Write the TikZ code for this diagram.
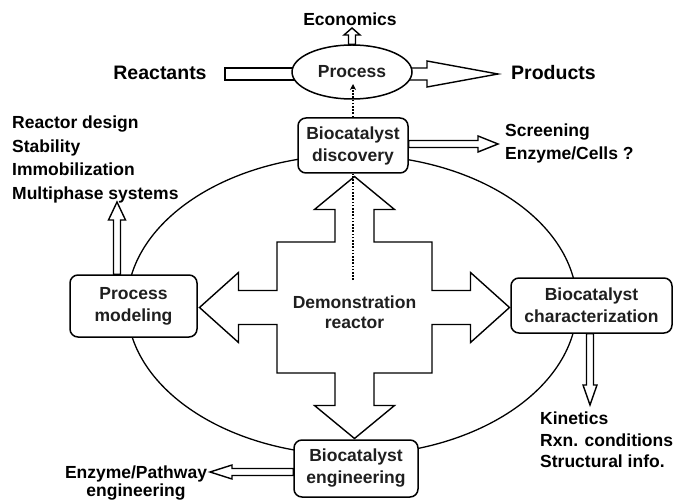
\documentclass[tikz,border=0pt]{standalone}
\usepackage{fontspec}
\setmainfont{Liberation Sans}
\usetikzlibrary{calc,shapes.geometric,arrows.meta}
\pgfdeclarelayer{bg}
\pgfsetlayers{bg,main}
\tikzset{
  box/.style={draw, rounded corners=8pt, line width=1.5pt, fill=white, align=center,
    text=black!88, font=\fontsize{17.5}{22}\selectfont\bfseries, inner sep=0pt},
  lbl/.style={font=\fontsize{17.5}{23.5}\selectfont\bfseries, inner sep=0pt, align=left},
  biglbl/.style={font=\fontsize{19.5}{23}\selectfont\bfseries, inner sep=0pt},
  harrow/.style={draw, fill=white, line width=1.4pt, line join=miter},
  dots/.style={line width=1.6pt, dash pattern=on 1.6pt off 1.6pt},
}
\newcommand\hollowarr[5]{%
  \draw[harrow] ($(#1)!#3!90:(#2)$) -- ($(#2)!#5!(#1)!#3!-90:(#1)$) -- ($(#2)!#5!(#1)!#4!-90:(#1)$) -- (#2) -- ($(#2)!#5!(#1)!#4!90:(#1)$) -- ($(#2)!#5!(#1)!#3!90:(#1)$) -- ($(#1)!#3!-90:(#2)$) -- cycle;}
\begin{document}
\begin{tikzpicture}[x=1pt,y=-1pt]
\useasboundingbox (0,0) rectangle (676,502);
% main nodes
\node[draw, ellipse, line width=1.5pt, fill=white, minimum width=120pt, minimum height=54pt, inner sep=0pt,
  text=black!88, font=\fontsize{17.5}{22}\selectfont\bfseries] (proc) at (352,72) {Process};
\node[box, minimum width=110pt, minimum height=55pt] (disc) at (353,145.5) {Biocatalyst\\discovery};
\node[box, minimum width=127pt, minimum height=62pt] (model) at (133.5,306) {Process\\modeling};
\node[box, minimum width=161pt, minimum height=55pt] (char) at (591.5,305.5) {Biocatalyst\\characterization};
\node[box, minimum width=124pt, minimum height=57pt] (eng) at (356,468.5) {Biocatalyst\\engineering};
\coordinate (demo) at (354.5,307.5);
\node[font=\fontsize{17.5}{20}\selectfont\bfseries, text=black!88, align=center, inner sep=0pt] (demotxt) at (354.5,312) {Demonstration\\reactor};
% labels
\node[biglbl, anchor=base] (reac) at (160,80) {Reactants};
\node[biglbl, anchor=base west] (prod) at (511,80) {Products};
\node[lbl, anchor=base] (econ) at (350,26) {Economics};
\node[lbl, anchor=north west] (reqs) at (12,116) {Reactor design\\Stability\\Immobilization\\Multiphase systems};
\node[lbl, anchor=north west, font=\fontsize{17.5}{23}\selectfont\bfseries] (scr) at (505,124) {Screening\\Enzyme/Cells ?};
\node[lbl, anchor=north west, font=\fontsize{17.5}{21.5}\selectfont\bfseries] (kin) at (540,412) {Kinetics\\Rxn. conditions\\Structural info.};
\node[lbl, anchor=north, align=center, font=\fontsize{17.5}{17.5}\selectfont\bfseries] (enz) at (136,466) {Enzyme/Pathway\\engineering};
% coordinates for arrows
\coordinate (econtip) at (352,28);
\coordinate (reacL) at (225,74);
\coordinate (prodtip) at (498,74);
\coordinate (prodstart) at (proc.center |- prodtip);
\coordinate (scrtip) at (498,144);
\coordinate (scrstart) at (disc.east |- scrtip);
\coordinate (multtip) at (117,202);
\coordinate (multstart) at (multtip |- model.north);
\coordinate (kintip) at (590,405);
\coordinate (kinstart) at (kintip |- char.south);
\coordinate (enztip) at (210,472);
\coordinate (enzstart) at (eng.west |- enztip);
\coordinate (dotstart) at (353,280);
\coordinate (dottip) at (353,84);
\begin{pgfonlayer}{bg}
  \draw[line width=1.3pt] (352,305) ellipse [x radius=225, y radius=150];
  % central cross
  \draw[harrow, shift={(demo)}]
    (0,-131) -- (40,-98) -- (19.5,-98) -- (19.5,-65.5) -- (77.5,-65.5) -- (77.5,-17)
    -- (116,-17) -- (116,-35) -- (155,0) -- (116,35) -- (116,17) -- (77.5,17)
    -- (77.5,65.5) -- (19.5,65.5) -- (19.5,98) -- (40,98) -- (0,131) -- (-40,98)
    -- (-19.5,98) -- (-19.5,65.5) -- (-77.5,65.5) -- (-77.5,17) -- (-116,17)
    -- (-116,35) -- (-155,0) -- (-116,-35) -- (-116,-17) -- (-77.5,-17)
    -- (-77.5,-65.5) -- (-19.5,-65.5) -- (-19.5,-98) -- (-40,-98) -- cycle;
  \draw[dots] (dotstart) -- (disc.south);
  % hollow arrows
  \draw[harrow] ($(reacL)+(0,-6)$) rectangle ($(prodstart)+(0,6)$);
  \hollowarr{prodstart}{prodtip}{6pt}{13pt}{71pt}
  \hollowarr{proc.north}{econtip}{3.5pt}{8pt}{7pt}
  \hollowarr{scrstart}{scrtip}{3.5pt}{8pt}{20pt}
  \hollowarr{multstart}{multtip}{3.5pt}{8.5pt}{18pt}
  \hollowarr{kinstart}{kintip}{3.5pt}{7pt}{20pt}
  \hollowarr{enzstart}{enztip}{3.5pt}{7pt}{22pt}
\end{pgfonlayer}
\draw[dots, -{Stealth[length=6pt,width=6pt]}] (disc.north) -- (dottip);
\end{tikzpicture}
\end{document}
